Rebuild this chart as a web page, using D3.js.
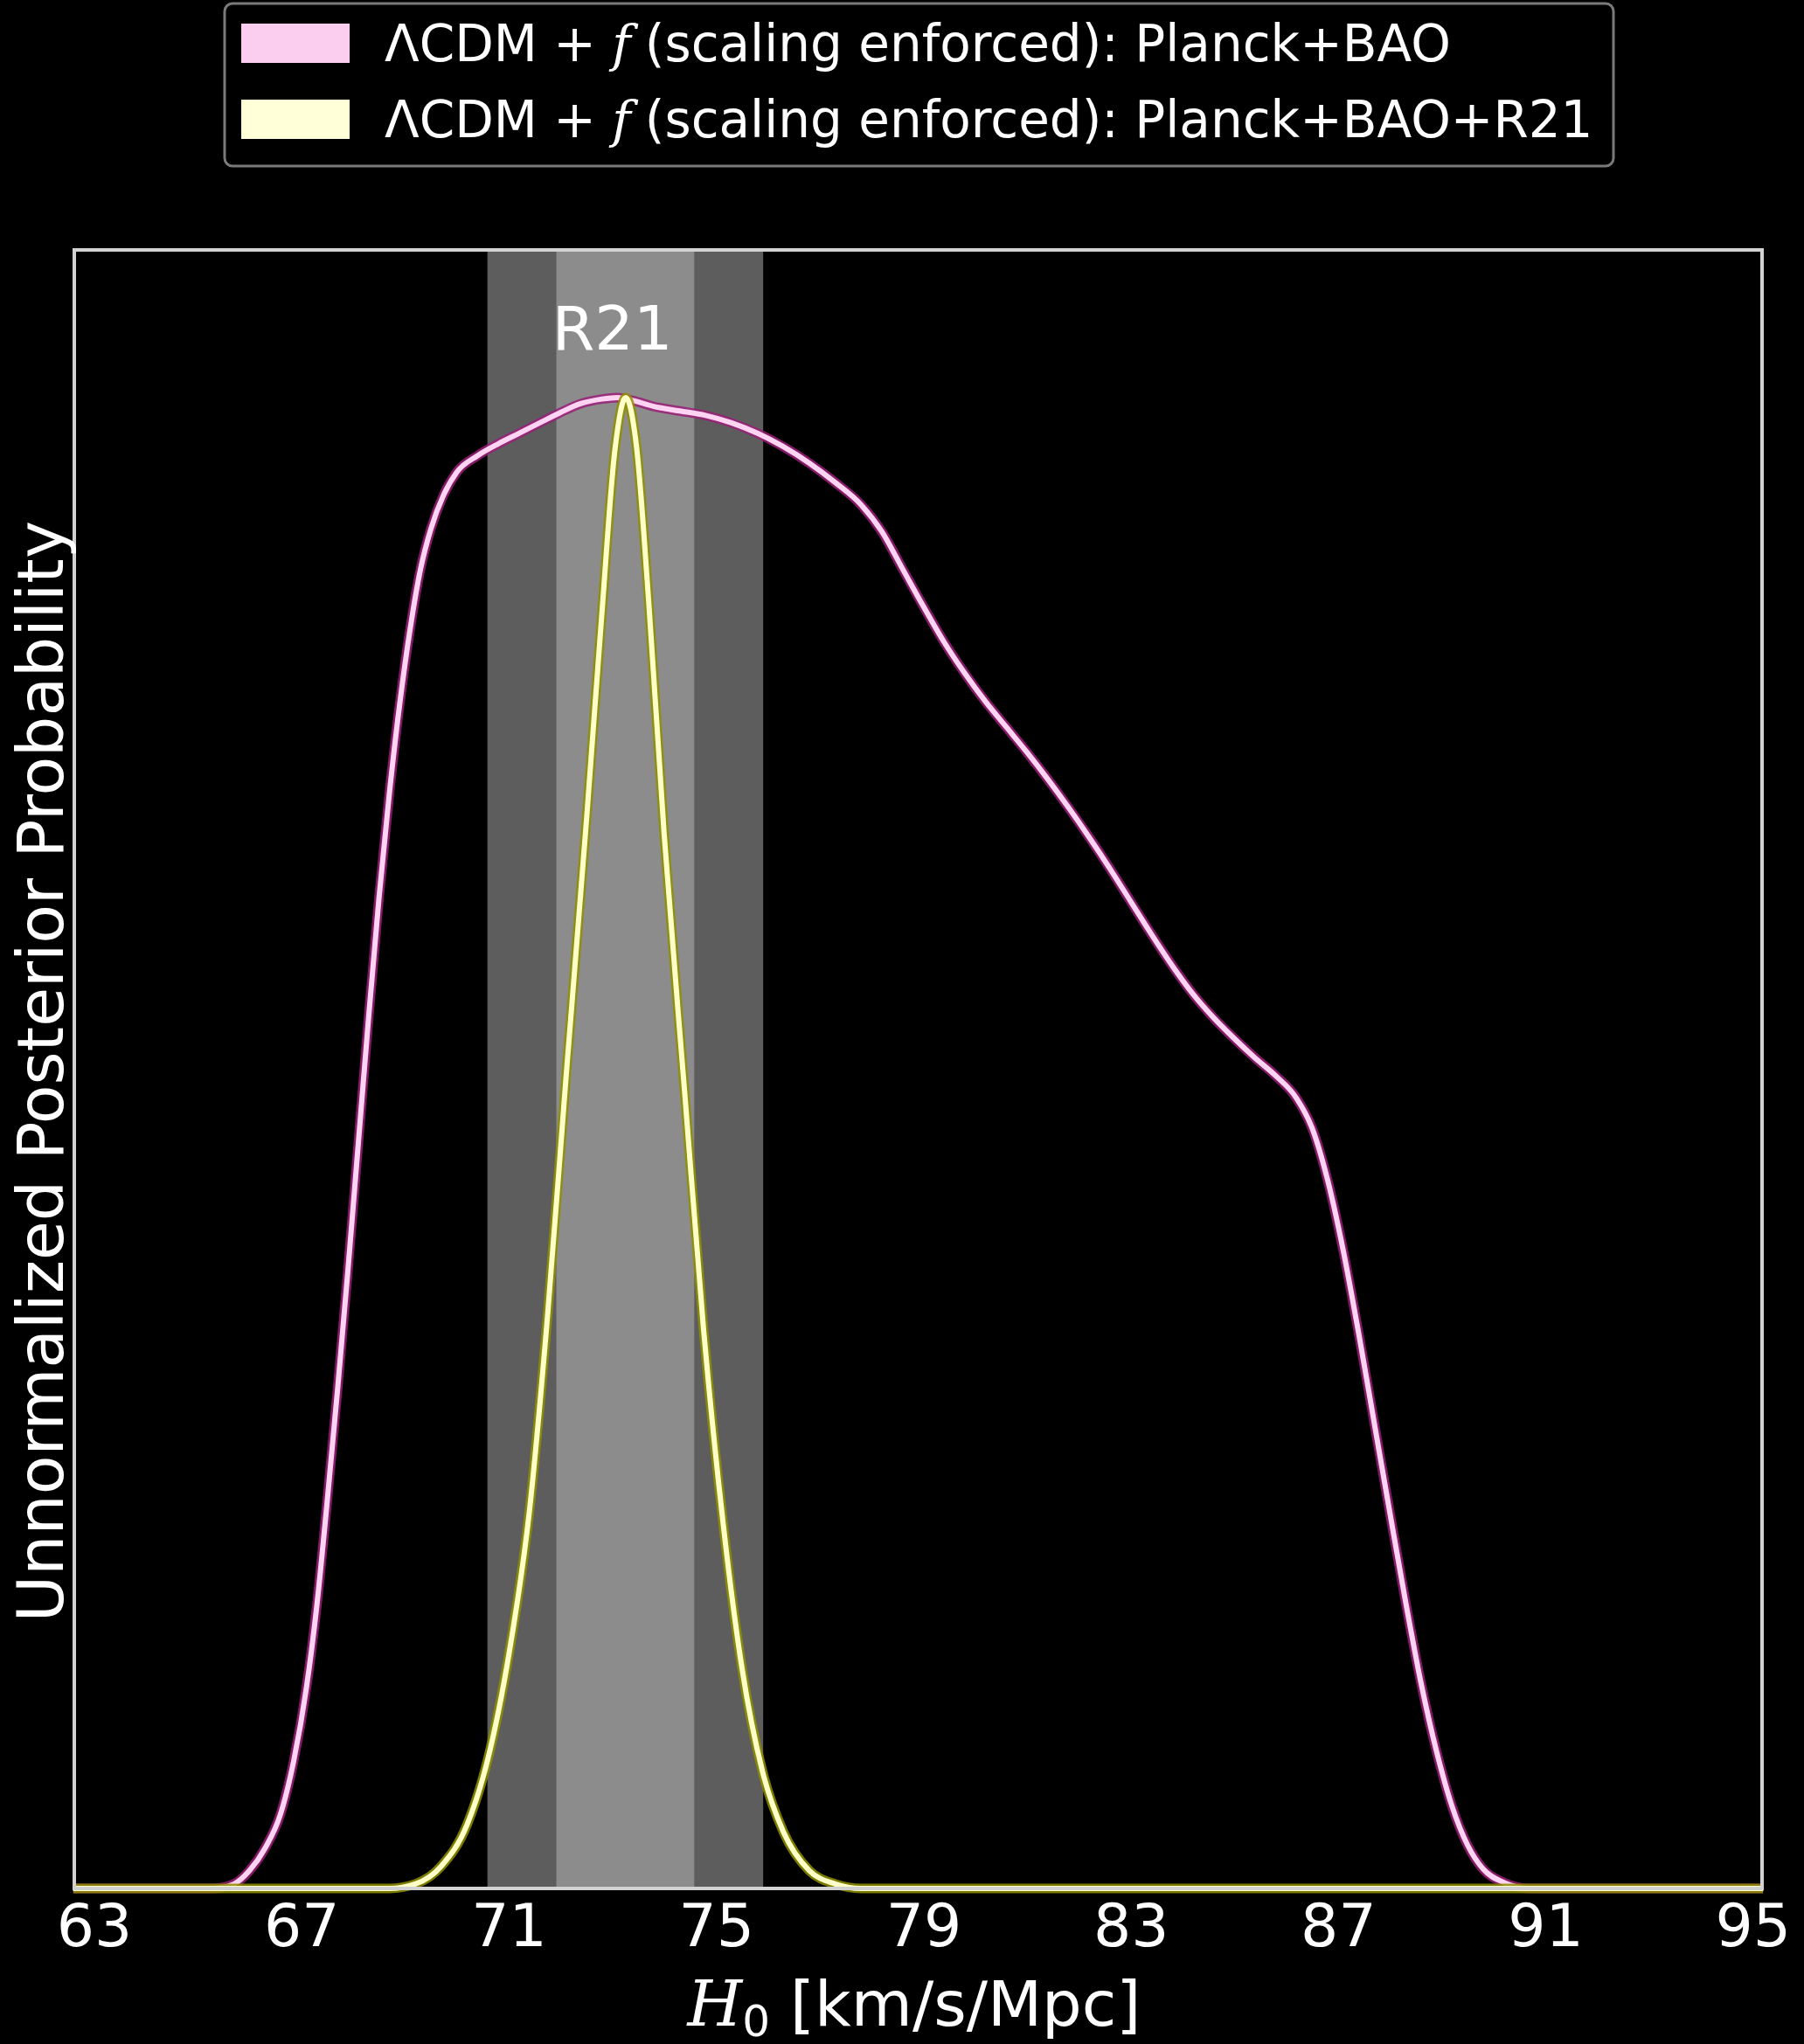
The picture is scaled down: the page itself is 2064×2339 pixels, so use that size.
<!DOCTYPE html>
<html>
<head>
<meta charset="utf-8">
<script src="https://cdn.jsdelivr.net/npm/d3@7"></script>
<style>
  html, body { margin: 0; padding: 0; background: #000; }
  svg { display: block; }
</style>
</head>
<body>
<svg id="chart"></svg>
<script>
// H0 posterior, Planck+BAO (scaling enforced)
const h0Planck = [62.6, 65.3, 65.7, 66.0, 66.3, 66.6, 66.85, 67.1, 67.3, 67.5, 67.7, 67.9, 68.1, 68.3, 68.5,
  68.7, 68.9, 69.1, 69.3, 69.5, 69.75, 70.0, 70.4, 70.8, 71.2, 71.6, 72.0, 72.4, 72.8, 73.1, 73.4, 73.8,
  74.3, 74.8, 75.3, 75.8, 76.3, 76.8, 77.3, 77.8, 78.2, 78.6, 79.0, 79.4, 79.8, 80.2, 80.6, 81.0, 81.4,
  81.8, 82.2, 82.6, 83.0, 83.4, 83.8, 84.2, 84.6, 85.0, 85.4, 85.8, 86.2, 86.5, 86.8, 87.1, 87.4, 87.7,
  88.0, 88.3, 88.6, 88.9, 89.2, 89.5, 89.8, 90.2, 90.7, 95.2];
const probPlanck = [0, 0, 0.003, 0.012, 0.027, 0.05, 0.085, 0.135, 0.19, 0.26, 0.335, 0.415, 0.5, 0.585, 0.665,
  0.735, 0.795, 0.845, 0.885, 0.912, 0.935, 0.95, 0.961, 0.969, 0.976, 0.983, 0.99, 0.996, 0.999, 1.0, 0.998, 0.994,
  0.991, 0.988, 0.983, 0.976, 0.967, 0.956, 0.943, 0.928, 0.91, 0.885, 0.86, 0.836, 0.815, 0.796, 0.779, 0.762, 0.744,
  0.725, 0.705, 0.684, 0.662, 0.64, 0.619, 0.6, 0.584, 0.57, 0.557, 0.545, 0.53, 0.51, 0.475, 0.428, 0.372, 0.312,
  0.252, 0.193, 0.138, 0.092, 0.055, 0.029, 0.013, 0.004, 0, 0];

// H0 posterior, Planck+BAO+R21 (scaling enforced)
const h0R21 = [62.6, 68.7, 69.2, 69.7, 70.2, 70.6, 71.0, 71.4, 71.75, 72.1, 72.5, 72.8, 73.05, 73.26,
  73.46, 73.7, 74.0, 74.4, 74.76, 75.14, 75.5, 75.9, 76.3, 76.8, 77.3, 77.8, 95.2];
const probR21 = [0, 0, 0.003, 0.015, 0.043, 0.087, 0.156, 0.253, 0.384, 0.541, 0.716, 0.856, 0.965, 1.0,
  0.969, 0.864, 0.707, 0.532, 0.375, 0.244, 0.148, 0.078, 0.038, 0.012, 0.003, 0, 0];

// SH0ES R21 measurement (mean, 1 sigma)
const r21Mean = 73.25;
const r21Sigma = 1.33;

const xTicks = [63, 67, 71, 75, 79, 83, 87, 91, 95];
const xDomain = [62.62, 95.18];
const yDomain = [0, 1.099];

const seriesNames = ["Planck+BAO", "Planck+BAO+R21"];
const seriesFill = ["#fbcdef", "#ffffd8"];
const seriesLine = ["#ffd4f3", "#ffffc8"];
const seriesHalo = ["#9a1f78", "#8f8f00"];

const W = 2064, H = 2339;
const plot = { left: 85, right: 2016, top: 286, bottom: 2161 };
const font = "'DejaVu Sans', sans-serif";

const svg = d3.select("#chart").attr("width", W).attr("height", H);
svg.append("rect").attr("width", W).attr("height", H).attr("fill", "#000");

const x = d3.scaleLinear().domain(xDomain).range([plot.left, plot.right]);
const y = d3.scaleLinear().domain(yDomain).range([plot.bottom, plot.top]);

// R21 2-sigma and 1-sigma bands
const bands = [
  { lo: r21Mean - 2 * r21Sigma, hi: r21Mean + 2 * r21Sigma, fill: "#5d5d5d" },
  { lo: r21Mean - r21Sigma, hi: r21Mean + r21Sigma, fill: "#8c8c8c" }
];
svg.append("g").selectAll("rect").data(bands).join("rect")
  .attr("x", d => x(d.lo))
  .attr("width", d => x(d.hi) - x(d.lo))
  .attr("y", y(yDomain[1]))
  .attr("height", y(0) - y(yDomain[1]))
  .attr("fill", d => d.fill);

svg.append("text")
  .attr("x", x(73.0)).attr("y", 400)
  .attr("text-anchor", "middle")
  .attr("font-family", font).attr("font-size", 70)
  .attr("fill", "#ffffff")
  .text("R21");

// posterior curves
const series = [
  { xs: h0Planck, ys: probPlanck },
  { xs: h0R21, ys: probR21 }
];
const line = d3.line()
  .x(d => x(d[0]))
  .y(d => y(d[1]))
  .curve(d3.curveMonotoneX);

series.forEach((s, i) => {
  const pts = s.xs.map((v, k) => [v, s.ys[k]]);
  const g = svg.append("g");
  g.append("path").attr("d", line(pts))
    .attr("fill", "none").attr("stroke", seriesHalo[i])
    .attr("stroke-width", 11).attr("stroke-linejoin", "round").attr("opacity", 0.85);
  g.append("path").attr("d", line(pts))
    .attr("fill", "none").attr("stroke", seriesLine[i])
    .attr("stroke-width", 6).attr("stroke-linejoin", "round");
});

// frame
svg.append("rect")
  .attr("x", plot.left).attr("y", plot.top)
  .attr("width", plot.right - plot.left).attr("height", plot.bottom - plot.top)
  .attr("fill", "none").attr("stroke", "#d2d2d2").attr("stroke-width", 4);

// x axis
const xAxis = d3.axisBottom(x).tickValues(xTicks).tickSize(0).tickPadding(18)
  .tickFormat(d3.format("d"));
const gx = svg.append("g").attr("transform", `translate(0,${plot.bottom})`).call(xAxis);
gx.select(".domain").remove();
gx.selectAll("text")
  .attr("font-family", font).attr("font-size", 68).attr("fill", "#ffffff");

// x label
const xl = svg.append("text")
  .attr("x", 1046).attr("y", 2318)
  .attr("text-anchor", "middle")
  .attr("font-family", font).attr("font-size", 72).attr("fill", "#ffffff");
xl.append("tspan").attr("font-family", "'DejaVu Serif', serif").attr("font-style", "italic").text("H");
xl.append("tspan").attr("font-size", 50).attr("dy", 12).text("0");
xl.append("tspan").attr("dy", -12).text(" [km/s/Mpc]");

// y label
svg.append("text")
  .attr("transform", "translate(72,1226) rotate(-90)")
  .attr("text-anchor", "middle")
  .attr("font-family", font).attr("font-size", 73).attr("fill", "#ffffff")
  .text("Unnormalized Posterior Probability");

// legend
const legend = svg.append("g");
legend.append("rect")
  .attr("x", 257).attr("y", 4).attr("width", 1589).attr("height", 186)
  .attr("rx", 9).attr("fill", "#000").attr("stroke", "#7a7a7a").attr("stroke-width", 3);
const rowY = [70, 157];
seriesNames.forEach((name, i) => {
  legend.append("rect")
    .attr("x", 276).attr("y", rowY[i] - 43).attr("width", 124).attr("height", 45)
    .attr("fill", seriesFill[i]);
  const t = legend.append("text")
    .attr("x", 440).attr("y", rowY[i])
    .attr("font-family", font).attr("font-size", 58).attr("fill", "#ffffff");
  t.append("tspan").text("\u039BCDM + ");
  t.append("tspan").attr("font-family", "'DejaVu Serif', serif").attr("font-style", "italic").text("f");
  t.append("tspan").attr("dx", 16).text("(scaling enforced): " + name);
});
</script>
</body>
</html>
